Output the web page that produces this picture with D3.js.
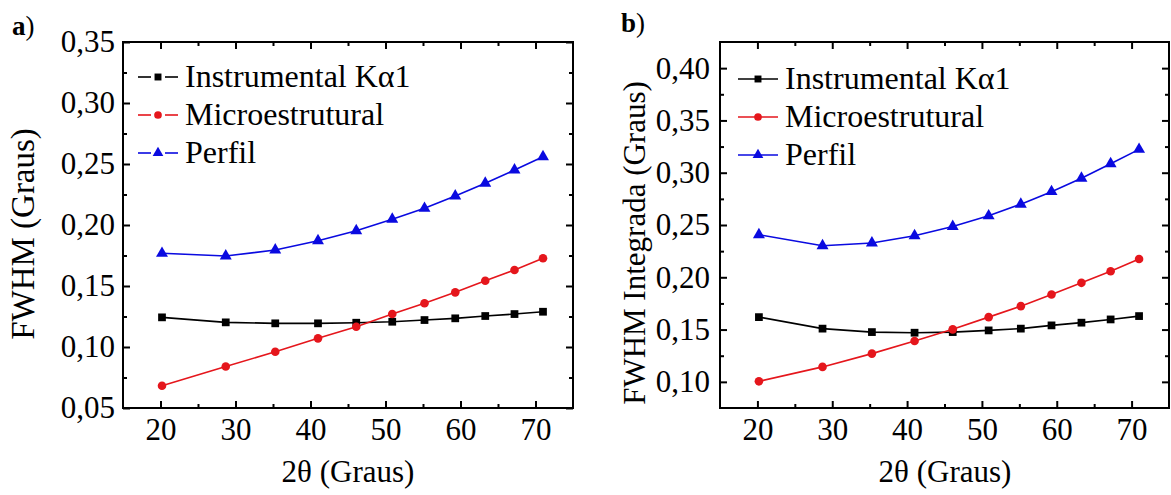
<!DOCTYPE html>
<html>
<head>
<meta charset="utf-8">
<script src="https://cdn.jsdelivr.net/npm/d3@7"></script>
<style>
  body { margin: 0; background: #fff; }
  svg { display: block; font-family: "Liberation Serif", "Times New Roman", serif; }
</style>
</head>
<body>
<svg id="chart" width="1171" height="495"></svg>
<script>
// data
const twoTheta = [20.2, 28.7, 35.3, 41.0, 46.1, 50.9, 55.2, 59.3, 63.3, 67.2, 71.0];

const instA = [0.1243, 0.1202, 0.1194, 0.1194, 0.1199, 0.1207, 0.1221, 0.1235, 0.1254, 0.1270, 0.1289];
const microA = [0.0683, 0.0840, 0.0961, 0.1071, 0.1166, 0.1270, 0.1358, 0.1448, 0.1543, 0.1631, 0.1727];
const perfilA = [0.1768, 0.1746, 0.1795, 0.1871, 0.1953, 0.2047, 0.2137, 0.2238, 0.2342, 0.2451, 0.2560];

const instB = [0.1619, 0.1509, 0.1476, 0.1470, 0.1476, 0.1492, 0.1509, 0.1540, 0.1566, 0.1597, 0.1629];
const microB = [0.1005, 0.1143, 0.1270, 0.1390, 0.1502, 0.1619, 0.1724, 0.1835, 0.1947, 0.2057, 0.2175];
const perfilB = [0.2407, 0.2302, 0.2328, 0.2397, 0.2486, 0.2588, 0.2699, 0.2819, 0.2947, 0.3086, 0.3223];

const seriesNames = ["Instrumental K\u03b11", "Microestrutural", "Perfil"];
const xTicks = [20, 30, 40, 50, 60, 70];
const xMinor = [25, 35, 45, 55, 65];
const yTicksA = [0.05, 0.10, 0.15, 0.20, 0.25, 0.30, 0.35];
const yMinorA = [0.075, 0.125, 0.175, 0.225, 0.275, 0.325];
const yTicksB = [0.10, 0.15, 0.20, 0.25, 0.30, 0.35, 0.40];
const yMinorB = [0.125, 0.175, 0.225, 0.275, 0.325, 0.375];

const colors = ["#000000", "#e5161c", "#0a0ae0"];
const shapes = [d3.symbolSquare, d3.symbolCircle, d3.symbolTriangle];
const symSizes = [60, 58, 62];

const svg = d3.select("#chart");
const fmt = d => d3.format(".2f")(d).replace(".", ",");
const serif = "Liberation Serif, Times New Roman, serif";

function drawPanel(p) {
    const x = d3.scaleLinear().domain([15, 75]).range([p.left, p.right]);
    const y = d3.scaleLinear().domain(p.yDomain).range([p.bottom, p.top]);
    const g = svg.append("g");

    // major + minor ticks on four sides, pointing inward
    const addAxis = (axis, tx, ty, labels) => {
        const a = g.append("g")
            .attr("transform", `translate(${tx},${ty})`)
            .call(axis);
        a.select(".domain").remove();
        a.selectAll(".tick line").attr("stroke", "#000").attr("stroke-width", 2);
        a.selectAll("text").attr("fill", "#000").style("font-size", "31px")
            .style("font-family", serif);
        if (!labels) a.selectAll("text").remove();
        return a;
    };

    addAxis(d3.axisBottom(x).tickValues(xTicks).tickSize(-7).tickPadding(10).tickFormat(d3.format("d")), 0, p.bottom, true);
    addAxis(d3.axisBottom(x).tickValues(xMinor).tickSize(-4).tickFormat(""), 0, p.bottom, false);
    addAxis(d3.axisTop(x).tickValues(xTicks).tickSize(-7).tickFormat(""), 0, p.top, false);
    addAxis(d3.axisTop(x).tickValues(xMinor).tickSize(-4).tickFormat(""), 0, p.top, false);
    addAxis(d3.axisLeft(y).tickValues(p.yTicks).tickSize(-7).tickPadding(p.tickPad).tickFormat(fmt), p.left, 0, true);
    addAxis(d3.axisLeft(y).tickValues(p.yMinor).tickSize(-4).tickFormat(""), p.left, 0, false);
    addAxis(d3.axisRight(y).tickValues(p.yTicks).tickSize(-7).tickFormat(""), p.right, 0, false);
    addAxis(d3.axisRight(y).tickValues(p.yMinor).tickSize(-4).tickFormat(""), p.right, 0, false);

    g.append("rect")
        .attr("x", p.left).attr("y", p.top)
        .attr("width", p.right - p.left).attr("height", p.bottom - p.top)
        .attr("fill", "none").attr("stroke", "#000").attr("stroke-width", 2);

    const line = d3.line().x(d => x(d[0])).y(d => y(d[1]));

    p.series.forEach((vals, i) => {
        const pts = twoTheta.map((t, j) => [t, vals[j]]);
        g.append("path")
            .datum(pts)
            .attr("d", line)
            .attr("fill", "none")
            .attr("stroke", colors[i])
            .attr("stroke-width", 1.6);
        g.selectAll(null)
            .data(pts)
            .enter()
            .append("path")
            .attr("d", d3.symbol().type(shapes[i]).size(symSizes[i]))
            .attr("transform", d => `translate(${x(d[0])},${y(d[1])})`)
            .attr("fill", colors[i]);
    });

    // legend
    seriesNames.forEach((name, i) => {
        const ly = p.legY + i * 38;
        const lx = p.legX;
        if (p.gapLegend) {
            g.append("line").attr("x1", lx).attr("x2", lx + 13).attr("y1", ly).attr("y2", ly)
                .attr("stroke", colors[i]).attr("stroke-width", 1.6);
            g.append("line").attr("x1", lx + 27).attr("x2", lx + 40).attr("y1", ly).attr("y2", ly)
                .attr("stroke", colors[i]).attr("stroke-width", 1.6);
        } else {
            g.append("line").attr("x1", lx).attr("x2", lx + 40).attr("y1", ly).attr("y2", ly)
                .attr("stroke", colors[i]).attr("stroke-width", 1.6);
        }
        g.append("path")
            .attr("d", d3.symbol().type(shapes[i]).size(symSizes[i] * 0.8))
            .attr("transform", `translate(${lx + 20},${ly})`)
            .attr("fill", colors[i]);
        g.append("text")
            .attr("x", lx + 47).attr("y", ly + 10)
            .style("font-size", "32px")
            .text(name);
    });

    g.append("text")
        .attr("transform", `translate(${p.yTitleX},${p.yTitleY}) rotate(-90)`)
        .attr("text-anchor", "middle")
        .style("font-size", p.yTitleSize + "px")
        .text(p.yTitle);

    g.append("text")
        .attr("x", p.xTitleX).attr("y", 482)
        .attr("text-anchor", "middle")
        .style("font-size", "31px")
        .text("2\u03b8 (Graus)");

    const lab = g.append("text")
        .attr("x", p.labX).attr("y", p.labY)
        .style("font-size", "27px");
    lab.append("tspan").attr("font-weight", "bold").text(p.label);
    lab.append("tspan").text(")");
}

drawPanel({
    left: 123, right: 573, top: 42, bottom: 408,
    yDomain: [0.05, 0.35], yTicks: yTicksA, yMinor: yMinorA, tickPad: 8,
    series: [instA, microA, perfilA],
    legX: 138, legY: 77, gapLegend: true,
    yTitle: "FWHM (Graus)", yTitleX: 34, yTitleY: 234, yTitleSize: 33,
    xTitleX: 348, label: "a", labX: 12, labY: 35
});

drawPanel({
    left: 720, right: 1169, top: 42, bottom: 408,
    yDomain: [0.075, 0.425], yTicks: yTicksB, yMinor: yMinorB, tickPad: 10,
    series: [instB, microB, perfilB],
    legX: 738, legY: 79, gapLegend: false,
    yTitle: "FWHM Integrada (Graus)", yTitleX: 645, yTitleY: 243, yTitleSize: 31,
    xTitleX: 945, label: "b", labX: 621, labY: 32
});
</script>
</body>
</html>
